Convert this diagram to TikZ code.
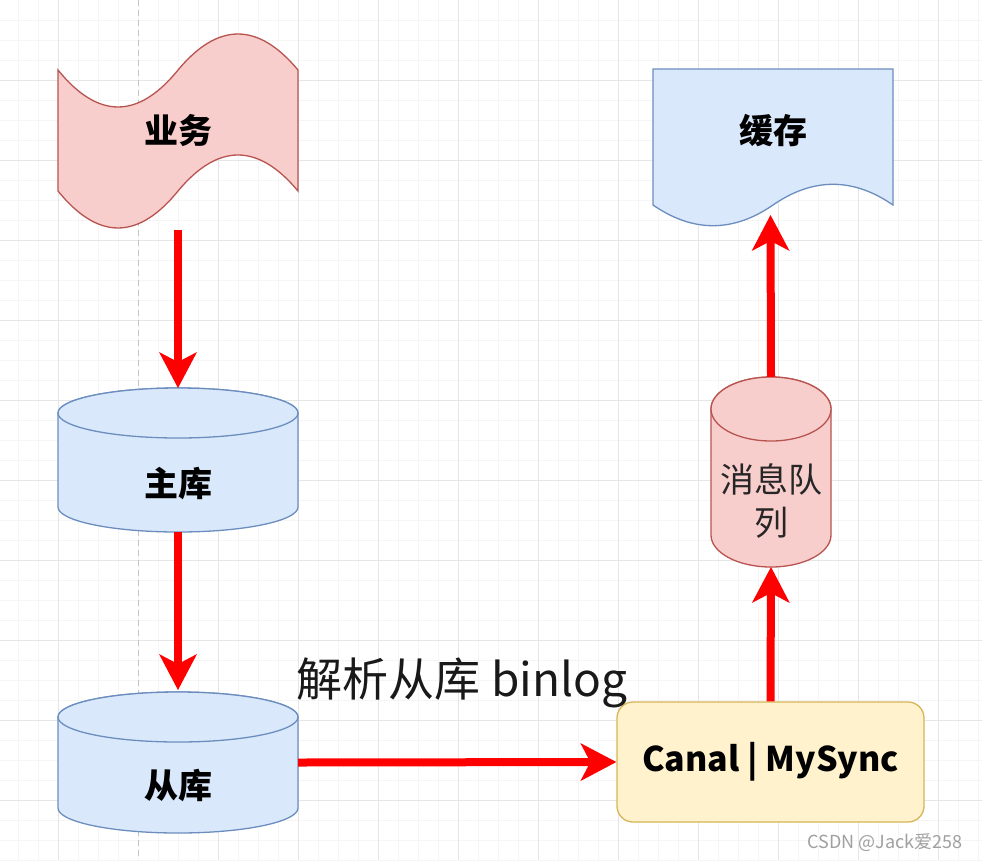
\documentclass[tikz,border=0pt]{standalone}
\usepackage{fontspec}
\setmainfont{Noto Sans CJK SC}
\usetikzlibrary{arrows.meta}
\definecolor{redfill}{HTML}{F8CECC}
\definecolor{redline}{HTML}{B85450}
\definecolor{bluefill}{HTML}{DAE8FC}
\definecolor{blueline}{HTML}{6C8EBF}
\definecolor{yelfill}{HTML}{FFF2CC}
\definecolor{yelline}{HTML}{D6B656}
\definecolor{gridminor}{HTML}{F5F5F5}
\definecolor{gridmajor}{HTML}{E6E6E6}
\definecolor{pageline}{HTML}{C4C4C4}
\definecolor{flow}{HTML}{FF0000}
\definecolor{wmark}{HTML}{A0A0A0}
\newcommand\cylshape[6]{%
  \pgfmathsetmacro\cylcx{(#2+#3)/2}%
  \pgfmathsetmacro\cylrx{(#3-#2)/2}%
  \pgfmathsetmacro\cylya{#4+#6}%
  \pgfmathsetmacro\cylyb{#5-#6}%
  \path[#1] (#2,\cylya) -- (#2,\cylyb) arc[start angle=180,end angle=0,x radius=\cylrx,y radius=#6]
     -- (#3,\cylya) arc[start angle=0,end angle=-180,x radius=\cylrx,y radius=#6] -- cycle;
  \path[#1] (\cylcx,\cylya) ellipse[x radius=\cylrx,y radius=#6];
}
\begin{document}
\begin{tikzpicture}[x=1pt,y=-1pt,
  box/.style={draw=none,rectangle,inner sep=0pt,outer sep=0pt},
  boldtxt/.style={font=\fontsize{34}{40}\selectfont\bfseries,text=black},
  plaintxt/.style={font=\fontsize{34}{43}\selectfont,text=black!85},
  flowarrow/.style={draw=flow,line width=8pt,-{Stealth[length=36pt,width=38pt,inset=10pt,line width=0pt]}},
  redshape/.style={fill=redfill,draw=redline,line width=1.3pt},
  blueshape/.style={fill=bluefill,draw=blueline,line width=1.3pt},
  yelshape/.style={fill=yelfill,draw=yelline,line width=1.3pt,rounded corners=16pt}
]
\useasboundingbox (0,0) rectangle (982,860);
\fill[white] (0,0) rectangle (982,860);
% grid
\foreach \gx in {18,38,...,982} \draw[gridminor,line width=1pt] (\gx,0) -- (\gx,860);
\foreach \gy in {20,40,...,860} \draw[gridminor,line width=1pt] (0,\gy) -- (982,\gy);
\foreach \gx in {58,218,298,...,982} \draw[gridmajor,line width=1pt] (\gx,0) -- (\gx,860);
\foreach \gy in {80,160,...,860} \draw[gridmajor,line width=1pt] (0,\gy) -- (982,\gy);
\draw[pageline,line width=1pt,dash pattern=on 6pt off 4pt] (138,0) -- (138,860);

% 业务 (tape)
\path[redshape] (58,70) .. controls (98,119.3) and (138,119.3) .. (178,70)
  .. controls (218,22) and (258,22) .. (298,70) -- (298,191)
  .. controls (258,143) and (218,143) .. (178,191)
  .. controls (138,240.3) and (98,240.3) .. (58,191) -- cycle;
\node[box,minimum width=240pt,minimum height=193pt] (biz) at (178,131.5) {};
\node[boldtxt] (biztxt) at (178,131) {业务};

% 缓存 (document)
\path[blueshape] (653,69) -- (893,69) -- (893,205)
  .. controls (853,177.4) and (813,177.4) .. (773,205)
  .. controls (733,232.6) and (693,232.6) .. (653,205) -- cycle;
\node[box,minimum width=240pt,minimum height=159pt] (cache) at (773,148.5) {};
\node[boldtxt] (cachetxt) at (773,131) {缓存};
\coordinate (cachein) at (770.5,215);

% 主库
\cylshape{blueshape}{58}{298}{388}{532}{25}
\node[box,minimum width=240pt,minimum height=144pt] (master) at (178,460) {};
\node[boldtxt] (mastertxt) at (178,484) {主库};

% 从库
\cylshape{blueshape}{58}{298}{692}{833}{25}
\node[box,minimum width=240pt,minimum height=141pt] (slave) at (178,762.5) {};
\node[boldtxt] (slavetxt) at (178,785) {从库};

% 消息队列
\cylshape{redshape}{711}{831}{377}{567}{32}
\node[box,minimum width=120pt,minimum height=190pt] (mq) at (771,472) {};
\node[plaintxt,align=center] (mqtxt) at (771,501) {消息队\\列};

% Canal | MySync
\node[yelshape,boldtxt,minimum width=307pt,minimum height=120pt,inner sep=0pt] (canal) at (770.5,762) {Canal | MySync};

% label
\node[font=\fontsize{46}{50}\selectfont,text=black!90] (lbl) at (462,683) {解析从库 binlog};

% arrows
\draw[flowarrow,shorten <=2pt] (biz.south) -- (master.north);
\draw[flowarrow,shorten >=2pt] (master.south) -- (slave.north);
\draw[flowarrow] (slave.east) -- (canal.west);
\draw[flowarrow] (canal.north) -- (mq.south);
\draw[flowarrow] (mq.north) -- (cachein);

% watermark
\node[anchor=east,text=wmark,font=\fontsize{18}{20}\selectfont] (wm) at (966,843) {CSDN @Jack爱258};
\end{tikzpicture}
\end{document}
